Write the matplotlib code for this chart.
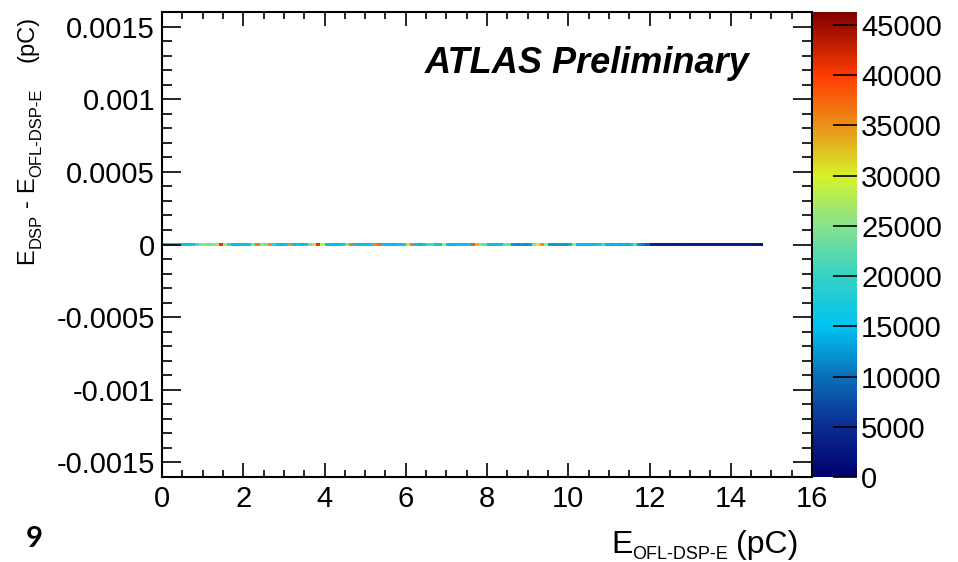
import numpy as np
import matplotlib.pyplot as plt
from matplotlib.colors import LinearSegmentedColormap
from matplotlib.ticker import MultipleLocator, FuncFormatter
from matplotlib.transforms import IdentityTransform

plt.rcParams['font.family'] = ['Liberation Sans', 'DejaVu Sans']

# entries per 0.1 pC bin of E_OFL-DSP-E, all in the zero-difference row
counts = [
    14500, 15000, 15500, 15000, 14800, 15200, 15500, 16000,
    22000, 25000, 26000, 24000, 25500, 27000, 41000, 27000, 20000,
    15000, 14500, 15200, 14800, 16000, 25000, 36000, 26000, 24000,
    35000, 20000, 15000, 14500, 15500, 35000,
    15000, 15500, 14800, 16500, 24000, 27000, 41000, 29000,
    15500, 15000, 14500, 15000, 16000, 25000, 36000,
    15000, 14800, 15500, 15000, 16500, 35000, 37000,
    15500, 15000, 14500, 15000, 15500, 17000, 28000, 36000,
    15000, 14500, 16000, 21000, 22000, 15500, 16000, 28000,
    15000, 14500, 15000, 15500, 14800, 16000, 38000, 33000, 25000, 23000,
    15000, 14500, 15000, 15500, 24000, 23000,
    12500, 12000, 12500, 12000, 13000, 26000, 29000, 35000, 27000,
    13000, 12500, 13000, 12500, 13000, 14000, 27000,
    15000, 14500, 15000, 14500, 15000, 16000, 22000,
    14500, 14000, 14500, 14000, 14500, 14000, 16000, 23000,
    12500, 11000, 9000,
    4000, 3800, 3600, 3800, 3700, 3500, 3600, 3800, 3700, 3600,
    3500, 3600, 3700, 3500, 3600, 3400, 3500, 3600, 3400, 3500,
    3300, 3400, 3500, 3300, 3400, 3300, 3200,
    2500,
]
bin_width = 0.1
diff_edges = [-1.0e-5, 1.0e-5]
z_max = 46300
cbar_ticks = [0, 5000, 10000, 15000, 20000, 25000, 30000, 35000, 40000, 45000]

x_edges = np.arange(len(counts) + 1) * bin_width
z = np.ma.masked_equal(np.array([counts]), 0)

# ROOT-like rainbow palette
palette = LinearSegmentedColormap.from_list('root_rainbow', [
    (0.000, '#00006e'), (0.108, '#0a2d92'), (0.216, '#0a6fb8'),
    (0.324, '#00c3f2'), (0.432, '#36d2c4'), (0.540, '#86e28e'),
    (0.648, '#d6f22a'), (0.756, '#eb9218'), (0.864, '#ff3c00'),
    (0.972, '#9c0c00'), (1.000, '#800000')])

W, H = 958, 562
fig = plt.figure(figsize=(W / 100, H / 100), dpi=100)
ax = fig.add_axes([162 / W, 1 - 477 / H, 650 / W, 465 / H])
cax = fig.add_axes([813 / W, 1 - 477 / H, 44 / W, 465 / H])

mesh = ax.pcolormesh(x_edges, diff_edges, z, cmap=palette, vmin=0, vmax=z_max)

ax.set_xlim(0, 16)
ax.set_ylim(-0.0016, 0.0016)
ax.xaxis.set_major_locator(MultipleLocator(2))
ax.xaxis.set_minor_locator(MultipleLocator(0.5))
ax.yaxis.set_major_locator(MultipleLocator(0.0005))
ax.yaxis.set_minor_locator(MultipleLocator(0.0001))
ax.yaxis.set_major_formatter(FuncFormatter(lambda v, p: '0' if abs(v) < 1e-9 else '%g' % v))
ax.tick_params(which='both', direction='in', top=True, right=True,
               labelsize=21, width=1.2, colors='black')
ax.tick_params(axis='x', which='major', length=10, pad=6)
ax.tick_params(axis='x', which='minor', length=5)
ax.tick_params(axis='y', which='major', length=14, pad=5)
ax.tick_params(axis='y', which='minor', length=7)
for s in ax.spines.values():
    s.set_linewidth(1.5)

cb = fig.colorbar(mesh, cax=cax, ticks=cbar_ticks)
cb.outline.set_visible(False)
cax.tick_params(direction='in', length=17, width=1.2, labelsize=21, pad=3)

fig.text(425 / W, 1 - 73 / H, 'ATLAS Preliminary', fontsize=26,
         fontweight='bold', fontstyle='italic', ha='left', va='baseline')


def put_label(x, y, pieces, vertical=False):
    # ROOT-style label: pieces of (text, size, subscript drop, gap before), in pixels
    renderer = fig.canvas.get_renderer()
    for text, size, drop, gap in pieces:
        if vertical:
            t = fig.text(x + drop, y + gap, text, fontsize=size, rotation=90,
                         rotation_mode='anchor', ha='left', va='baseline',
                         transform=IdentityTransform())
            y = t.get_window_extent(renderer).y1
        else:
            t = fig.text(x + gap, y - drop, text, fontsize=size,
                         ha='left', va='baseline', transform=IdentityTransform())
            x = t.get_window_extent(renderer).x1


put_label(611, H - 553, [('E', 23, 0, 0), ('OFL-DSP-E', 13, 6, 0), ('(pC)', 23, 0, 8)])
put_label(33, H - 264, [('E', 17, 0, 0), ('DSP', 12, 8, 0), ('-', 17, 0, 7),
                        ('E', 17, 0, 7), ('OFL-DSP-E', 12, 8, 0), ('(pC)', 17, 0, 26)],
          vertical=True)

fig.text(34 / W, 1 - 547 / H, '9', fontsize=21, family='Lato', fontweight='bold',
         ha='center', va='baseline')

fig.savefig('out.png', dpi=100)
